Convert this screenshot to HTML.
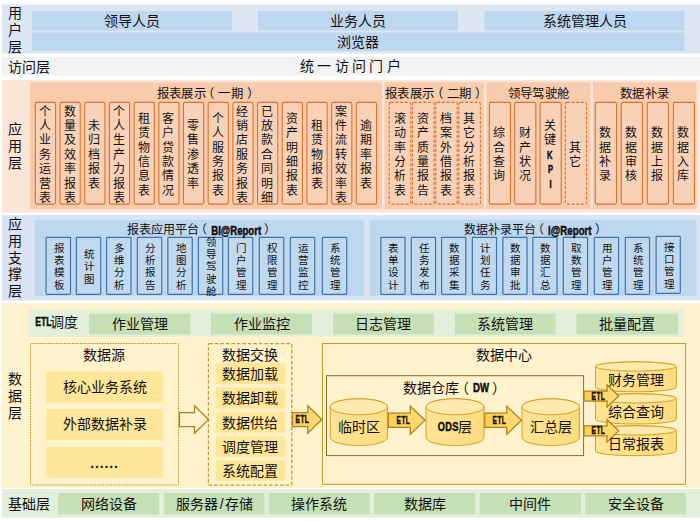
<!DOCTYPE html>
<html lang="zh-CN"><head><meta charset="utf-8"><title>系统架构图</title>
<style>
html,body{margin:0;padding:0;}
body{width:700px;height:521px;position:relative;overflow:hidden;background:#fff;font-family:"Liberation Sans",sans-serif;color:#111;}
.b{position:absolute;box-sizing:border-box;display:flex;align-items:center;justify-content:center;text-align:center;white-space:nowrap;}
.l{justify-content:flex-start;text-align:left;}
.t14{font-size:14px;line-height:16px;}
.t12{font-size:12.4px;line-height:14px;letter-spacing:.35px;}
.k{font-size:10.5px;-webkit-text-stroke:.3px #111;transform:scaleX(.8);}
.pl{position:relative;left:-3.5px;}
.pr{position:relative;left:3.5px;}
.lab{font-size:14px;line-height:16.7px;}
.ob{font-size:12px;line-height:14.4px;}
.bb{font-size:10.5px;line-height:12.3px;}
.cn{font-weight:bold;display:inline-block;transform:scaleX(.72);transform-origin:center;-webkit-text-stroke:.5px #111;}
svg{position:absolute;left:0;top:0;}
</style></head>
<body>
<svg width="700" height="521" viewBox="0 0 700 521"><defs><linearGradient id="ga" x1="0" x2="1" y1="0" y2="0"><stop offset="0" stop-color="#ffcf4c"/><stop offset="1" stop-color="#ffdd7c"/></linearGradient><linearGradient id="gc" x1="0" x2="1" y1="0" y2="0"><stop offset="0" stop-color="#ffe496"/><stop offset="1" stop-color="#ffdc7e"/></linearGradient></defs>
<rect x="2" y="4.5" width="698" height="49" fill="#dce6f2"/>
<rect x="32" y="11" width="200" height="19.5" fill="#bdd7ee"/>
<rect x="258" y="11" width="200" height="19.5" fill="#bdd7ee"/>
<rect x="484.5" y="11" width="200" height="19.5" fill="#bdd7ee"/>
<rect x="32" y="32.5" width="652.5" height="18.5" fill="#bdd7ee"/>
<rect x="2" y="57" width="698" height="18.5" fill="#f2f2f2"/>
<rect x="2" y="80" width="698" height="132.5" fill="#fbe5d6"/>
<rect x="30" y="82.3" width="352" height="126.7" fill="#f8cbad"/>
<rect x="384.5" y="82.3" width="99.5" height="126.7" fill="#f8cbad"/>
<rect x="486.5" y="82.3" width="104" height="126.7" fill="#f8cbad"/>
<rect x="593" y="82.3" width="103.5" height="126.7" fill="#f8cbad"/>
<rect x="35.35" y="102.4" width="20.2" height="101.7" fill="#f9d1b7" rx="1.5" stroke="#d8742f" stroke-width="1.1"/>
<rect x="60.04" y="102.4" width="20.2" height="101.7" fill="#f9d1b7" rx="1.5" stroke="#d8742f" stroke-width="1.1"/>
<rect x="84.73" y="102.4" width="20.2" height="101.7" fill="#f9d1b7" rx="1.5" stroke="#d8742f" stroke-width="1.1"/>
<rect x="109.42" y="102.4" width="20.2" height="101.7" fill="#f9d1b7" rx="1.5" stroke="#d8742f" stroke-width="1.1"/>
<rect x="134.11" y="102.4" width="20.2" height="101.7" fill="#f9d1b7" rx="1.5" stroke="#d8742f" stroke-width="1.1"/>
<rect x="158.8" y="102.4" width="20.2" height="101.7" fill="#f9d1b7" rx="1.5" stroke="#d8742f" stroke-width="1.1"/>
<rect x="183.49" y="102.4" width="20.2" height="101.7" fill="#f9d1b7" rx="1.5" stroke="#d8742f" stroke-width="1.1"/>
<rect x="208.18" y="102.4" width="20.2" height="101.7" fill="#f9d1b7" rx="1.5" stroke="#d8742f" stroke-width="1.1"/>
<rect x="232.87" y="102.4" width="20.2" height="101.7" fill="#f9d1b7" rx="1.5" stroke="#d8742f" stroke-width="1.1"/>
<rect x="257.56" y="102.4" width="20.2" height="101.7" fill="#f9d1b7" rx="1.5" stroke="#d8742f" stroke-width="1.1"/>
<rect x="282.25" y="102.4" width="20.2" height="101.7" fill="#f9d1b7" rx="1.5" stroke="#d8742f" stroke-width="1.1"/>
<rect x="306.94" y="102.4" width="20.2" height="101.7" fill="#f9d1b7" rx="1.5" stroke="#d8742f" stroke-width="1.1"/>
<rect x="331.63" y="102.4" width="20.2" height="101.7" fill="#f9d1b7" rx="1.5" stroke="#d8742f" stroke-width="1.1"/>
<rect x="356.32" y="102.4" width="20.2" height="101.7" fill="#f9d1b7" rx="1.5" stroke="#d8742f" stroke-width="1.1"/>
<rect x="389.3" y="102.4" width="21.5" height="101.7" fill="#f9d1b7" rx="1.5" stroke="#d8742f" stroke-width="1.1" stroke-dasharray="3 1.7"/>
<rect x="412.5" y="102.4" width="21.5" height="101.7" fill="#f9d1b7" rx="1.5" stroke="#d8742f" stroke-width="1.1" stroke-dasharray="3 1.7"/>
<rect x="435.7" y="102.4" width="21.5" height="101.7" fill="#f9d1b7" rx="1.5" stroke="#d8742f" stroke-width="1.1" stroke-dasharray="3 1.7"/>
<rect x="458.9" y="102.4" width="21.5" height="101.7" fill="#f9d1b7" rx="1.5" stroke="#d8742f" stroke-width="1.1" stroke-dasharray="3 1.7"/>
<rect x="489.3" y="102.4" width="21.2" height="101.7" fill="#f9d1b7" rx="1.5" stroke="#d8742f" stroke-width="1.1"/>
<rect x="514.65" y="102.4" width="21.2" height="101.7" fill="#f9d1b7" rx="1.5" stroke="#d8742f" stroke-width="1.1"/>
<rect x="540" y="102.4" width="21.2" height="101.7" fill="#f9d1b7" rx="1.5" stroke="#d8742f" stroke-width="1.1"/>
<rect x="565.35" y="102.4" width="21.2" height="101.7" fill="#f9d1b7" rx="1.5" stroke="#d8742f" stroke-width="1.1" stroke-dasharray="3 1.7"/>
<rect x="595.3" y="102.4" width="21.2" height="101.7" fill="#f9d1b7" rx="1.5" stroke="#d8742f" stroke-width="1.1"/>
<rect x="621.3" y="102.4" width="21.2" height="101.7" fill="#f9d1b7" rx="1.5" stroke="#d8742f" stroke-width="1.1"/>
<rect x="647.3" y="102.4" width="21.2" height="101.7" fill="#f9d1b7" rx="1.5" stroke="#d8742f" stroke-width="1.1"/>
<rect x="673.3" y="102.4" width="21.2" height="101.7" fill="#f9d1b7" rx="1.5" stroke="#d8742f" stroke-width="1.1"/>
<rect x="2" y="215" width="698" height="85.5" fill="#dae3f3"/>
<rect x="34.8" y="219.8" width="328.95" height="76.2" fill="#bdd7ee"/>
<rect x="370" y="219.8" width="326.5" height="76.2" fill="#bdd7ee"/>
<rect x="46.1" y="237.4" width="24.4" height="57" fill="#c1d9ef" rx="0.8" stroke="#3f74a9" stroke-width="1.2"/>
<rect x="76.35" y="237.4" width="24.4" height="57" fill="#c1d9ef" rx="0.8" stroke="#3f74a9" stroke-width="1.2"/>
<rect x="106.6" y="237.4" width="24.4" height="57" fill="#c1d9ef" rx="0.8" stroke="#3f74a9" stroke-width="1.2"/>
<rect x="137.35" y="237.4" width="24.4" height="57" fill="#c1d9ef" rx="0.8" stroke="#3f74a9" stroke-width="1.2"/>
<rect x="167.85" y="237.4" width="24.4" height="57" fill="#c1d9ef" rx="0.8" stroke="#3f74a9" stroke-width="1.2"/>
<rect x="198.35" y="237.4" width="24.4" height="57" fill="#c1d9ef" rx="0.8" stroke="#3f74a9" stroke-width="1.2"/>
<rect x="228.35" y="237.4" width="24.4" height="57" fill="#c1d9ef" rx="0.8" stroke="#3f74a9" stroke-width="1.2"/>
<rect x="259.35" y="237.4" width="24.4" height="57" fill="#c1d9ef" rx="0.8" stroke="#3f74a9" stroke-width="1.2"/>
<rect x="290.35" y="237.4" width="24.4" height="57" fill="#c1d9ef" rx="0.8" stroke="#3f74a9" stroke-width="1.2"/>
<rect x="322.35" y="237.4" width="24.4" height="57" fill="#c1d9ef" rx="0.8" stroke="#3f74a9" stroke-width="1.2"/>
<rect x="380.85" y="237.4" width="24.2" height="57" fill="#c1d9ef" rx="0.8" stroke="#3f74a9" stroke-width="1.2"/>
<rect x="411.35" y="237.4" width="24.2" height="57" fill="#c1d9ef" rx="0.8" stroke="#3f74a9" stroke-width="1.2"/>
<rect x="441.6" y="237.4" width="24.2" height="57" fill="#c1d9ef" rx="0.8" stroke="#3f74a9" stroke-width="1.2"/>
<rect x="472.35" y="237.4" width="24.2" height="57" fill="#c1d9ef" rx="0.8" stroke="#3f74a9" stroke-width="1.2"/>
<rect x="502.85" y="237.4" width="24.2" height="57" fill="#c1d9ef" rx="0.8" stroke="#3f74a9" stroke-width="1.2"/>
<rect x="532.85" y="237.4" width="24.2" height="57" fill="#c1d9ef" rx="0.8" stroke="#3f74a9" stroke-width="1.2"/>
<rect x="563.35" y="237.4" width="24.2" height="57" fill="#c1d9ef" rx="0.8" stroke="#3f74a9" stroke-width="1.2"/>
<rect x="594.35" y="237.4" width="24.2" height="57" fill="#c1d9ef" rx="0.8" stroke="#3f74a9" stroke-width="1.2"/>
<rect x="625.35" y="237.4" width="24.2" height="57" fill="#c1d9ef" rx="0.8" stroke="#3f74a9" stroke-width="1.2"/>
<rect x="656.1" y="236.4" width="24.2" height="57" fill="#c1d9ef" rx="0.8" stroke="#3f74a9" stroke-width="1.2"/>
<rect x="2" y="303" width="698" height="185" fill="#fff2cc"/>
<rect x="28.5" y="310" width="655" height="26.5" fill="#e2efda"/>
<rect x="89" y="313.5" width="101.5" height="21" fill="#c5e0b4"/>
<rect x="211" y="313.5" width="101" height="21" fill="#c5e0b4"/>
<rect x="333" y="313.5" width="100.5" height="21" fill="#c5e0b4"/>
<rect x="455" y="313.5" width="100.5" height="21" fill="#c5e0b4"/>
<rect x="576.5" y="313.5" width="101.5" height="21" fill="#c5e0b4"/>
<rect x="30.5" y="343.5" width="148" height="141.5" fill="none" rx="1" stroke="#c4962a" stroke-width="1" stroke-dasharray="1.7 1"/>
<rect x="46" y="371.5" width="117" height="31" fill="#ffe699"/>
<rect x="46" y="409" width="117" height="31.3" fill="#ffe699"/>
<rect x="46" y="446.8" width="117" height="31.2" fill="#ffe699"/>
<rect x="208.4" y="343.5" width="83.4" height="141.5" fill="none" rx="1" stroke="#c4962a" stroke-width="1.25" stroke-dasharray="3.5 2"/>
<rect x="215.5" y="363" width="69.5" height="21" fill="#ffe699"/>
<rect x="215.5" y="387.5" width="69.5" height="21.1" fill="#ffe699"/>
<rect x="215.5" y="412" width="69.5" height="20.7" fill="#ffe699"/>
<rect x="215.5" y="436.3" width="69.5" height="20.7" fill="#ffe699"/>
<rect x="215.5" y="460.4" width="69.5" height="20.6" fill="#ffe699"/>
<rect x="322.5" y="343.5" width="363" height="140.8" fill="none" stroke="#c49a22" stroke-width="1"/>
<rect x="326.5" y="375.7" width="257.1" height="79.9" fill="none" stroke="#8a6a1c" stroke-width="1"/>
<path d="M595.5,366.5 A40.4,4.6 0 0 1 676.3,366.5 V387.2 A40.4,4.6 0 0 1 595.5,387.2 Z" fill="url(#gc)" stroke="#d1a21d" stroke-width="1"/>
<ellipse cx="635.9" cy="366.5" rx="40.4" ry="4.6" fill="#ffe9ad" stroke="#d1a21d" stroke-width="1"/>
<path d="M595.5,398.4 A40.4,4.6 0 0 1 676.3,398.4 V419.4 A40.4,4.6 0 0 1 595.5,419.4 Z" fill="url(#gc)" stroke="#d1a21d" stroke-width="1"/>
<ellipse cx="635.9" cy="398.4" rx="40.4" ry="4.6" fill="#ffe9ad" stroke="#d1a21d" stroke-width="1"/>
<path d="M595.5,430.4 A40.4,4.6 0 0 1 676.3,430.4 V451.1 A40.4,4.6 0 0 1 595.5,451.1 Z" fill="url(#gc)" stroke="#d1a21d" stroke-width="1"/>
<ellipse cx="635.9" cy="430.4" rx="40.4" ry="4.6" fill="#ffe9ad" stroke="#d1a21d" stroke-width="1"/>
<path d="M330.2,406.8 A28.6,8 0 0 1 387.4,406.8 V437.5 A28.6,8 0 0 1 330.2,437.5 Z" fill="url(#gc)" stroke="#d1a21d" stroke-width="1"/>
<ellipse cx="358.8" cy="406.8" rx="28.6" ry="8" fill="#ffe9ad" stroke="#d1a21d" stroke-width="1"/>
<path d="M426,406.8 A29,8 0 0 1 484,406.8 V437.5 A29,8 0 0 1 426,437.5 Z" fill="url(#gc)" stroke="#d1a21d" stroke-width="1"/>
<ellipse cx="455" cy="406.8" rx="29" ry="8" fill="#ffe9ad" stroke="#d1a21d" stroke-width="1"/>
<path d="M522,406.8 A28.7,8 0 0 1 579.4,406.8 V437.5 A28.7,8 0 0 1 522,437.5 Z" fill="url(#gc)" stroke="#d1a21d" stroke-width="1"/>
<ellipse cx="550.7" cy="406.8" rx="28.7" ry="8" fill="#ffe9ad" stroke="#d1a21d" stroke-width="1"/>
<path d="M179.5,412.5 H194.6 V405.7 L208.5,419.5 L194.6,433.3 V426.5 H179.5 Z" fill="#fff2cc" stroke="#a9811f" stroke-width="1.25" stroke-linejoin="miter"/>
<path d="M292.5,412.5 H307.8 V405.7 L321.8,419.5 L307.8,433.3 V426.5 H292.5 Z" fill="url(#ga)" stroke="#ab821a" stroke-width="1.25" stroke-linejoin="miter"/>
<path d="M388.3,413.2 H410.3 V406.2 L424.9,420.3 L410.3,434.4 V427.4 H388.3 Z" fill="url(#ga)" stroke="#ab821a" stroke-width="1.25" stroke-linejoin="miter"/>
<path d="M484.8,413.2 H506.8 V406.2 L521.4,420.3 L506.8,434.4 V427.4 H484.8 Z" fill="url(#ga)" stroke="#ab821a" stroke-width="1.25" stroke-linejoin="miter"/>
<path d="M584,391 H607 V384.7 L618.7,396 L607,407.3 V401 H584 Z" fill="url(#ga)" stroke="#ab821a" stroke-width="1.25" stroke-linejoin="miter"/>
<path d="M584,425.8 H607 V419.5 L618.7,430.8 L607,442.1 V435.8 H584 Z" fill="url(#ga)" stroke="#ab821a" stroke-width="1.25" stroke-linejoin="miter"/>
<rect x="2" y="489" width="698" height="28.7" fill="#e2efda"/>
<rect x="58.3" y="493" width="100.7" height="21.2" fill="#c5e0b4"/>
<rect x="164" y="493" width="100.5" height="21.2" fill="#c5e0b4"/>
<rect x="269" y="493" width="100.6" height="21.2" fill="#c5e0b4"/>
<rect x="374" y="493" width="101.2" height="21.2" fill="#c5e0b4"/>
<rect x="479.7" y="493" width="101.1" height="21.2" fill="#c5e0b4"/>
<rect x="585.3" y="493" width="100.7" height="21.2" fill="#c5e0b4"/>
</svg>
<div class="b t14" style="left:32px;top:11px;width:200px;height:20.5px;">领导人员</div>
<div class="b t14" style="left:258px;top:11px;width:200px;height:20.5px;">业务人员</div>
<div class="b t14" style="left:484.5px;top:11px;width:200px;height:20.5px;">系统管理人员</div>
<div class="b t14" style="left:32px;top:32.5px;width:652.5px;height:19.5px;">浏览器</div>
<div class="b lab" style="left:5px;top:5px;width:20px;height:50.5px;"><span>用<br>户<br>层</span></div>
<div class="b t14 l" style="left:8px;top:57px;width:52px;height:19.5px;">访问层</div>
<div class="b t14" style="left:250px;top:57px;width:204px;height:18.5px;letter-spacing:3.4px;">统一访问门户</div>
<div class="b lab" style="left:5px;top:80px;width:20px;height:132.5px;"><span>应<br>用<br>层</span></div>
<div class="b t12" style="left:30px;top:85.5px;width:352px;height:16px;">报表展示<span class="pl">（</span>一期<span class="pr">）</span></div>
<div class="b t12" style="left:384.5px;top:85.5px;width:99.5px;height:16px;">报表展示<span class="pl">（</span>二期<span class="pr">）</span></div>
<div class="b t12" style="left:486.5px;top:85.5px;width:104px;height:16px;">领导驾驶舱</div>
<div class="b t12" style="left:593px;top:85.5px;width:103.5px;height:16px;">数据补录</div>
<div class="b ob" style="left:35.35px;top:102.4px;width:20.2px;height:101.7px;padding:3.6px 1px 0 0;"><span>个<br>人<br>业<br>务<br>运<br>营<br>表</span></div>
<div class="b ob" style="left:60.04px;top:102.4px;width:20.2px;height:101.7px;padding:3.6px 1px 0 0;"><span>数<br>量<br>及<br>效<br>率<br>报<br>表</span></div>
<div class="b ob" style="left:84.73px;top:102.4px;width:20.2px;height:101.7px;padding:3.6px 1px 0 0;"><span>未<br>归<br>档<br>报<br>表</span></div>
<div class="b ob" style="left:109.42px;top:102.4px;width:20.2px;height:101.7px;padding:3.6px 1px 0 0;"><span>个<br>人<br>生<br>产<br>力<br>报<br>表</span></div>
<div class="b ob" style="left:134.11px;top:102.4px;width:20.2px;height:101.7px;padding:3.6px 1px 0 0;"><span>租<br>赁<br>物<br>信<br>息<br>表</span></div>
<div class="b ob" style="left:158.8px;top:102.4px;width:20.2px;height:101.7px;padding:3.6px 1px 0 0;"><span>客<br>户<br>贷<br>款<br>情<br>况</span></div>
<div class="b ob" style="left:183.49px;top:102.4px;width:20.2px;height:101.7px;padding:3.6px 1px 0 0;"><span>零<br>售<br>渗<br>透<br>率</span></div>
<div class="b ob" style="left:208.18px;top:102.4px;width:20.2px;height:101.7px;padding:3.6px 1px 0 0;"><span>个<br>人<br>服<br>务<br>报<br>表</span></div>
<div class="b ob" style="left:232.87px;top:102.4px;width:20.2px;height:101.7px;padding:3.6px 1px 0 0;"><span>经<br>销<br>店<br>服<br>务<br>报<br>表</span></div>
<div class="b ob" style="left:257.56px;top:102.4px;width:20.2px;height:101.7px;padding:3.6px 1px 0 0;"><span>已<br>放<br>款<br>合<br>同<br>明<br>细</span></div>
<div class="b ob" style="left:282.25px;top:102.4px;width:20.2px;height:101.7px;padding:3.6px 1px 0 0;"><span>资<br>产<br>明<br>细<br>报<br>表</span></div>
<div class="b ob" style="left:306.94px;top:102.4px;width:20.2px;height:101.7px;padding:3.6px 1px 0 0;"><span>租<br>赁<br>物<br>报<br>表</span></div>
<div class="b ob" style="left:331.63px;top:102.4px;width:20.2px;height:101.7px;padding:3.6px 1px 0 0;"><span>案<br>件<br>流<br>转<br>效<br>率<br>表</span></div>
<div class="b ob" style="left:356.32px;top:102.4px;width:20.2px;height:101.7px;padding:3.6px 1px 0 0;"><span>逾<br>期<br>率<br>报<br>表</span></div>
<div class="b ob" style="left:389.3px;top:102.4px;width:21.5px;height:101.7px;padding:3.6px 1px 0 0;"><span>滚<br>动<br>率<br>分<br>析<br>表</span></div>
<div class="b ob" style="left:412.5px;top:102.4px;width:21.5px;height:101.7px;padding:3.6px 1px 0 0;"><span>资<br>产<br>质<br>量<br>报<br>告</span></div>
<div class="b ob" style="left:435.7px;top:102.4px;width:21.5px;height:101.7px;padding:3.6px 1px 0 0;"><span>档<br>案<br>外<br>借<br>报<br>表</span></div>
<div class="b ob" style="left:458.9px;top:102.4px;width:21.5px;height:101.7px;padding:3.6px 1px 0 0;"><span>其<br>它<br>分<br>析<br>报<br>表</span></div>
<div class="b ob" style="left:489.3px;top:102.4px;width:21.2px;height:101.7px;padding:3.6px 1px 0 0;"><span>综<br>合<br>查<br>询</span></div>
<div class="b ob" style="left:514.65px;top:102.4px;width:21.2px;height:101.7px;padding:3.6px 1px 0 0;"><span>财<br>产<br>状<br>况</span></div>
<div class="b ob" style="left:540px;top:102.4px;width:21.2px;height:101.7px;padding:3.6px 1px 0 0;"><span>关<br>键<br><b class="cn k">K</b><br><b class="cn k">P</b><br><b class="cn k">I</b></span></div>
<div class="b ob" style="left:565.35px;top:102.4px;width:21.2px;height:101.7px;padding:3.6px 1px 0 0;"><span>其<br>它</span></div>
<div class="b ob" style="left:595.3px;top:102.4px;width:21.2px;height:101.7px;padding:3.6px 1px 0 0;"><span>数<br>据<br>补<br>录</span></div>
<div class="b ob" style="left:621.3px;top:102.4px;width:21.2px;height:101.7px;padding:3.6px 1px 0 0;"><span>数<br>据<br>审<br>核</span></div>
<div class="b ob" style="left:647.3px;top:102.4px;width:21.2px;height:101.7px;padding:3.6px 1px 0 0;"><span>数<br>据<br>上<br>报</span></div>
<div class="b ob" style="left:673.3px;top:102.4px;width:21.2px;height:101.7px;padding:3.6px 1px 0 0;"><span>数<br>据<br>入<br>库</span></div>
<div class="b lab" style="left:5px;top:215px;width:20px;height:86px;"><span>应<br>用<br>支<br>撑<br>层</span></div>
<div class="b t12 l" style="left:126.5px;top:222px;width:203.5px;height:16px;font-size:12px;letter-spacing:0;">报表应用平台<span class="pl">（</span><b class="cn" style="margin:0 -6px;transform:scaleX(.8);font-size:12px;position:relative;top:.7px">BI@Report</b><span class="pr">）</span></div>
<div class="b t12 l" style="left:463.7px;top:222px;width:226.3px;height:16px;font-size:12px;letter-spacing:0;">数据补录平台<span class="pl">（</span><b class="cn" style="margin:0 -5px;transform:scaleX(.81);font-size:12px;position:relative;top:.7px">i@Report</b><span class="pr">）</span></div>
<div class="b bb" style="left:46.1px;top:237.4px;width:24.4px;height:57px;padding:1px 0 0 1px;"><span>报<br>表<br>模<br>板</span></div>
<div class="b bb" style="left:76.35px;top:237.4px;width:24.4px;height:57px;padding:1px 0 0 1px;"><span>统<br>计<br>图</span></div>
<div class="b bb" style="left:106.6px;top:237.4px;width:24.4px;height:57px;padding:1px 0 0 1px;"><span>多<br>维<br>分<br>析</span></div>
<div class="b bb" style="left:137.35px;top:237.4px;width:24.4px;height:57px;padding:1px 0 0 1px;"><span>分<br>析<br>报<br>告</span></div>
<div class="b bb" style="left:167.85px;top:237.4px;width:24.4px;height:57px;padding:1px 0 0 1px;"><span>地<br>图<br>分<br>析</span></div>
<div class="b bb" style="left:198.35px;top:237.4px;width:24.4px;height:57px;padding:1px 0 0 1px;"><span>领<br>导<br>驾<br>驶<br>舱</span></div>
<div class="b bb" style="left:228.35px;top:237.4px;width:24.4px;height:57px;padding:1px 0 0 1px;"><span>门<br>户<br>管<br>理</span></div>
<div class="b bb" style="left:259.35px;top:237.4px;width:24.4px;height:57px;padding:1px 0 0 1px;"><span>权<br>限<br>管<br>理</span></div>
<div class="b bb" style="left:290.35px;top:237.4px;width:24.4px;height:57px;padding:1px 0 0 1px;"><span>运<br>营<br>监<br>控</span></div>
<div class="b bb" style="left:322.35px;top:237.4px;width:24.4px;height:57px;padding:1px 0 0 1px;"><span>系<br>统<br>管<br>理</span></div>
<div class="b bb" style="left:380.85px;top:237.4px;width:24.2px;height:57px;padding:1px 0 0 1px;"><span>表<br>单<br>设<br>计</span></div>
<div class="b bb" style="left:411.35px;top:237.4px;width:24.2px;height:57px;padding:1px 0 0 1px;"><span>任<br>务<br>发<br>布</span></div>
<div class="b bb" style="left:441.6px;top:237.4px;width:24.2px;height:57px;padding:1px 0 0 1px;"><span>数<br>据<br>采<br>集</span></div>
<div class="b bb" style="left:472.35px;top:237.4px;width:24.2px;height:57px;padding:1px 0 0 1px;"><span>计<br>划<br>任<br>务</span></div>
<div class="b bb" style="left:502.85px;top:237.4px;width:24.2px;height:57px;padding:1px 0 0 1px;"><span>数<br>据<br>审<br>批</span></div>
<div class="b bb" style="left:532.85px;top:237.4px;width:24.2px;height:57px;padding:1px 0 0 1px;"><span>数<br>据<br>汇<br>总</span></div>
<div class="b bb" style="left:563.35px;top:237.4px;width:24.2px;height:57px;padding:1px 0 0 1px;"><span>取<br>数<br>管<br>理</span></div>
<div class="b bb" style="left:594.35px;top:237.4px;width:24.2px;height:57px;padding:1px 0 0 1px;"><span>用<br>户<br>管<br>理</span></div>
<div class="b bb" style="left:625.35px;top:237.4px;width:24.2px;height:57px;padding:1px 0 0 1px;"><span>系<br>统<br>管<br>理</span></div>
<div class="b bb" style="left:656.1px;top:236.4px;width:24.2px;height:57px;padding:1px 0 0 1px;"><span>接<br>口<br>管<br>理</span></div>
<div class="b lab" style="left:5px;top:303px;width:20px;height:187px;"><span>数<br>据<br>层</span></div>
<div class="b t14 l" style="left:35px;top:309px;width:45px;height:26.5px;"><b class="cn" style="margin:0 -5.5px 0 -4.5px;transform:scaleX(.66);font-size:13px">ETL</b>调度</div>
<div class="b t14" style="left:89px;top:313.5px;width:101.5px;height:20.5px;">作业管理</div>
<div class="b t14" style="left:211px;top:313.5px;width:101px;height:20.5px;">作业监控</div>
<div class="b t14" style="left:333px;top:313.5px;width:100.5px;height:20.5px;">日志管理</div>
<div class="b t14" style="left:455px;top:313.5px;width:100.5px;height:20.5px;">系统管理</div>
<div class="b t14" style="left:576.5px;top:313.5px;width:101.5px;height:20.5px;">批量配置</div>
<div class="b t14" style="left:30px;top:346px;width:148.5px;height:18px;">数据源</div>
<div class="b t14" style="left:46px;top:371.5px;width:117px;height:30.5px;">核心业务系统</div>
<div class="b t14" style="left:46px;top:409px;width:117px;height:30.8px;">外部数据补录</div>
<div class="b t14" style="left:46px;top:446.8px;width:117px;height:30.7px;"><span style="letter-spacing:.9px;position:relative;top:.8px;font-weight:bold;font-size:14px">......</span></div>
<div class="b t14" style="left:208px;top:346px;width:84px;height:18px;">数据交换</div>
<div class="b t14" style="left:215.5px;top:363px;width:69.5px;height:21.5px;">数据加载</div>
<div class="b t14" style="left:215.5px;top:387.5px;width:69.5px;height:21.6px;">数据卸载</div>
<div class="b t14" style="left:215.5px;top:412px;width:69.5px;height:21.2px;">数据供给</div>
<div class="b t14" style="left:215.5px;top:436.3px;width:69.5px;height:21.2px;">调度管理</div>
<div class="b t14" style="left:215.5px;top:460.4px;width:69.5px;height:21.1px;">系统配置</div>
<div class="b t14" style="left:322px;top:346px;width:363.5px;height:18px;">数据中心</div>
<div class="b t14" style="left:326px;top:378.5px;width:257.75px;height:18px;padding-right:4px;">数据仓库<span class="pl">（</span><b class="cn" style="margin:0 -2px;font-size:12px;transform:scaleX(.8)">DW</b><span class="pr">）</span></div>
<div class="b " style="left:290px;top:413.5px;width:24px;height:12px;font-size:11px;line-height:11px;"><b class="cn" style="transform:scaleX(.6);letter-spacing:.7px">ETL</b></div>
<div class="b " style="left:391px;top:414.3px;width:24px;height:12px;font-size:11px;line-height:11px;"><b class="cn" style="transform:scaleX(.6);letter-spacing:.7px">ETL</b></div>
<div class="b " style="left:487.5px;top:414.3px;width:24px;height:12px;font-size:11px;line-height:11px;"><b class="cn" style="transform:scaleX(.6);letter-spacing:.7px">ETL</b></div>
<div class="b " style="left:586.7px;top:390px;width:24px;height:12px;font-size:11px;line-height:11px;"><b class="cn" style="transform:scaleX(.6);letter-spacing:.7px">ETL</b></div>
<div class="b " style="left:586.7px;top:424.8px;width:24px;height:12px;font-size:11px;line-height:11px;"><b class="cn" style="transform:scaleX(.6);letter-spacing:.7px">ETL</b></div>
<div class="b t14" style="left:330px;top:416px;width:57.5px;height:22px;">临时区</div>
<div class="b t14" style="left:426px;top:416px;width:58px;height:22px;"><b class="cn" style="margin:0 -4px 0 -3.5px;transform:scaleX(.74);font-size:12.5px;letter-spacing:.4px">ODS</b>层</div>
<div class="b t14" style="left:522px;top:416px;width:57.4px;height:22px;">汇总层</div>
<div class="b t14" style="left:595.5px;top:370px;width:80.8px;height:20px;">财务管理</div>
<div class="b t14" style="left:595.5px;top:402px;width:80.8px;height:20px;">综合查询</div>
<div class="b t14" style="left:595.5px;top:434px;width:80.8px;height:20px;">日常报表</div>
<div class="b t14 l" style="left:8px;top:493px;width:52px;height:22px;">基础层</div>
<div class="b t14" style="left:58.3px;top:493px;width:100.7px;height:22px;">网络设备</div>
<div class="b t14" style="left:164px;top:493px;width:100.5px;height:22px;">服务器<span style="margin:0 1px 0 2px">/</span>存储</div>
<div class="b t14" style="left:269px;top:493px;width:100.6px;height:22px;">操作系统</div>
<div class="b t14" style="left:374px;top:493px;width:101.2px;height:22px;">数据库</div>
<div class="b t14" style="left:479.7px;top:493px;width:101.1px;height:22px;">中间件</div>
<div class="b t14" style="left:585.3px;top:493px;width:100.7px;height:22px;">安全设备</div>
</body></html>
